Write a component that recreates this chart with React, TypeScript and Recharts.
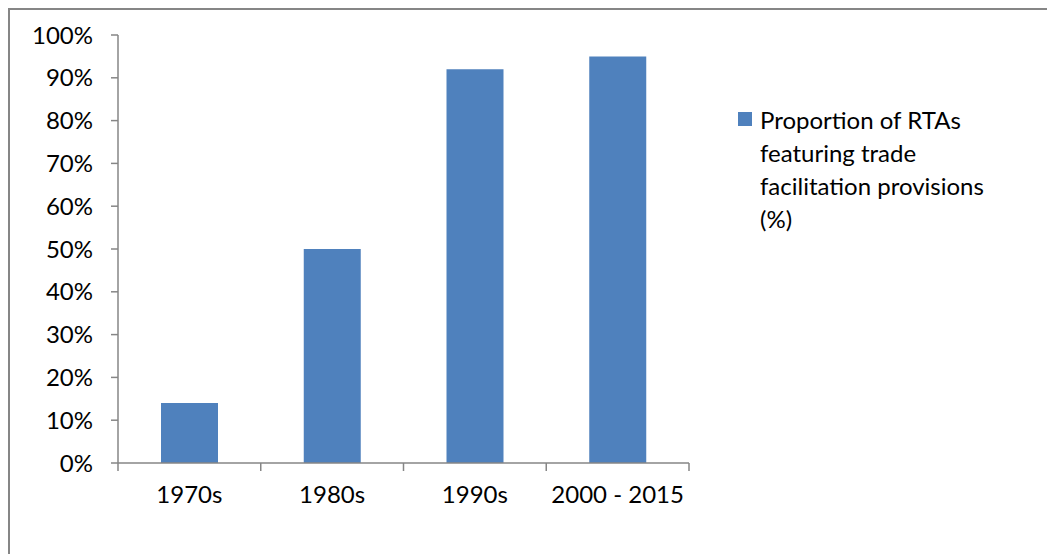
import React from "react";
import { BarChart, Bar, XAxis, YAxis, Legend, Customized } from "recharts";

const categories = ["1970s", "1980s", "1990s", "2000 - 2015"];
const proportionValues = [14, 50, 92, 95];
const yTicks = [0, 10, 20, 30, 40, 50, 60, 70, 80, 90, 100];
const seriesName = "Proportion of RTAs featuring trade facilitation provisions (%)";

const data = categories.map((c, i) => ({ category: c, value: proportionValues[i] }));

const FONT = "Lato, 'Liberation Sans', sans-serif";
const AXIS = "#868686";
const BAR = "#4F81BD";
const X_TICK_MARGIN = 25;

const XTick = (props: any) => {
  const { x, y, payload, index, visibleTicksCount } = props;
  const half = payload && payload.offset ? payload.offset : 0;
  const axisY = y - X_TICK_MARGIN;
  const isLast = index === (visibleTicksCount ?? categories.length) - 1;
  return (
    <g>
      <line x1={x - half} x2={x - half} y1={axisY} y2={axisY + 8} stroke={AXIS} strokeWidth={1.5} />
      {isLast && (
        <line x1={x + half} x2={x + half} y1={axisY} y2={axisY + 8} stroke={AXIS} strokeWidth={1.5} />
      )}
      <text x={x} y={y} dy={15} textAnchor="middle" fill="#000" fontFamily={FONT} fontSize={24}>
        {payload.value}
      </text>
    </g>
  );
};

const Frame = () => (
  <g className="chart-frame">
    <line x1={8} y1={9} x2={1055} y2={9} stroke={AXIS} strokeWidth={2} />
    <line x1={9} y1={8} x2={9} y2={554} stroke={AXIS} strokeWidth={2} />
  </g>
);

const LegendContent = (props: any) => {
  const items = props.payload || [];
  return (
    <div style={{ fontFamily: FONT, fontSize: 24, lineHeight: "33px", color: "#000" }}>
      {items.map((it: any, i: number) => (
        <div key={i} style={{ display: "flex", alignItems: "flex-start" }}>
          <div style={{ width: 14, height: 14, background: it.color, marginTop: 9, marginRight: 8, flex: "none" }} />
          <div style={{ width: 250 }}>{it.value}</div>
        </div>
      ))}
    </div>
  );
};

export default function App() {
  return (
    <div style={{ position: "relative", marginLeft: -8, marginTop: -8, width: 1055, height: 554, overflow: "hidden" }}>
      <BarChart
        width={1055}
        height={554}
        data={data}
        margin={{ top: 35, right: 366, bottom: 61, left: 18 }}
        barSize={57}
      >
        <Customized component={Frame} />
        <XAxis
          dataKey="category"
          height={30}
          axisLine={{ stroke: AXIS, strokeWidth: 1.5 }}
          tickLine={false}
          tickSize={0}
          tickMargin={X_TICK_MARGIN}
          interval={0}
          tick={<XTick />}
        />
        <YAxis
          width={100}
          domain={[0, 100]}
          ticks={yTicks}
          interval={0}
          tickFormatter={(v: number) => `${v}%`}
          axisLine={{ stroke: AXIS, strokeWidth: 1.5 }}
          tickLine={{ stroke: AXIS, strokeWidth: 1.5 }}
          tickSize={7}
          tickMargin={18}
          tick={{ fill: "#000", fontFamily: FONT, fontSize: 24 }}
        />
        <Legend
          layout="vertical"
          align="center"
          verticalAlign="middle"
          wrapperStyle={{ left: 738, top: 103, width: 300 }}
          content={LegendContent}
        />
        <Bar dataKey="value" name={seriesName} fill={BAR} isAnimationActive={false} />
      </BarChart>
    </div>
  );
}
